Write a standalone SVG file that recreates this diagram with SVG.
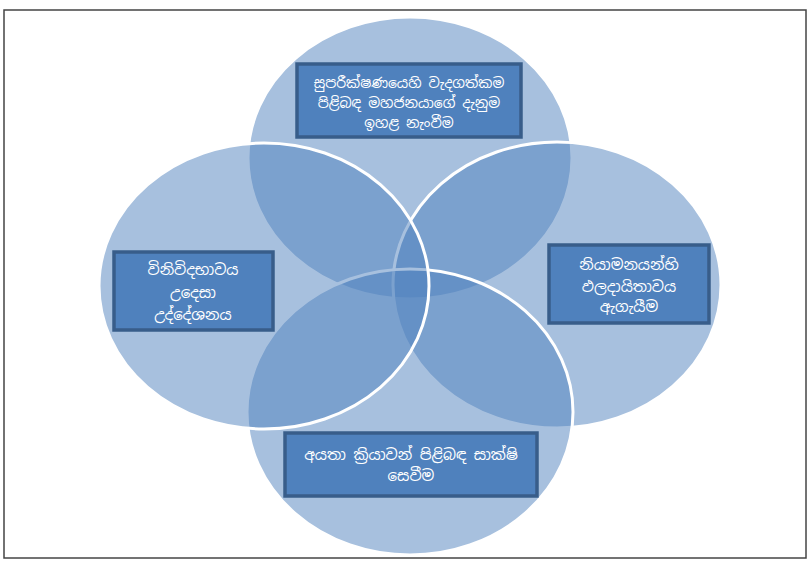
<svg xmlns="http://www.w3.org/2000/svg" width="810" height="561" viewBox="0 0 810 561">
<style>
.c{fill:#4F81BD;fill-opacity:0.5;stroke:#FFFFFF;stroke-width:3}
.b{fill:#4F81BD;stroke:#385D8A;stroke-width:3.5}
.t{fill:#FFFFFF;font-family:"Noto Sans Sinhala","Noto Sans","DejaVu Sans",sans-serif;font-size:15px;text-anchor:middle}
.s{font-size:14px}
</style>
<rect x="0" y="0" width="810" height="561" fill="#FFFFFF"/>
<rect x="4" y="10" width="802" height="548" fill="none" stroke="#444444" stroke-width="1.5"/>
<g id="circles">
<ellipse id="c-top" class="c" cx="410" cy="158" rx="162" ry="141"/>
<ellipse id="c-right" class="c" cx="557" cy="285" rx="164" ry="143"/>
<ellipse id="c-bottom" class="c" cx="410" cy="412" rx="163" ry="143"/>
<ellipse id="c-left" class="c" cx="264" cy="286" rx="165" ry="143"/>
</g>
<g id="n-top">
<rect class="b" x="297" y="64" width="224" height="73"/>
<text class="t s" x="409" y="88">සුපරීක්ෂණයෙහි වැදගත්කම</text>
<text class="t s" x="409" y="108">පිළිබඳ මහජනයාගේ දැනුම</text>
<text class="t s" x="409" y="128">ඉහළ නැංවීම</text>
</g>
<g id="n-left">
<rect class="b" x="114" y="252" width="159" height="78"/>
<text class="t" x="193" y="275">විනිවිදභාවය</text>
<text class="t" x="193" y="298">උදෙසා</text>
<text class="t" x="193" y="320">උද්දේශනය</text>
</g>
<g id="n-right">
<rect class="b" x="549" y="245" width="160" height="78"/>
<text class="t" x="629" y="270">නියාමනයන්හි</text>
<text class="t" x="629" y="292">ඵලදායිතාවය</text>
<text class="t" x="629" y="312">ඇගැයීම</text>
</g>
<g id="n-bottom">
<rect class="b" x="285" y="433" width="252" height="63"/>
<text class="t" x="411" y="460">අයතා ක්‍රියාවන් පිළිබඳ සාක්ෂි</text>
<text class="t" x="411" y="481">සෙවීම</text>
</g>
</svg>
